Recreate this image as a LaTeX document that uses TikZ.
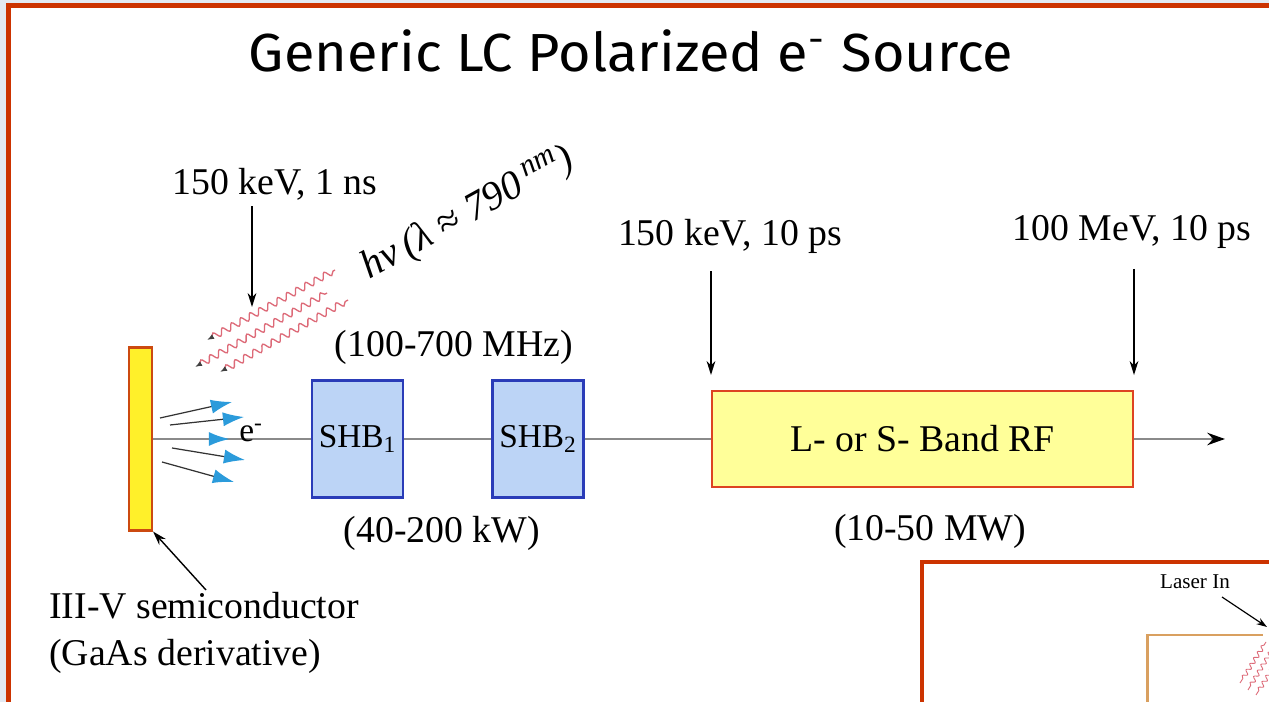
\documentclass[tikz,border=0pt]{standalone}
\usepackage{fontspec}
\usepackage{xcolor}
\setmainfont{Liberation Serif}
\newfontfamily\titlefont{Fira Sans}
\usetikzlibrary{arrows.meta}
\usetikzlibrary{positioning}
\usetikzlibrary{decorations.pathmorphing}

\definecolor{slidebg}{HTML}{E3E9F1}
\definecolor{framered}{HTML}{CC3300}
\definecolor{beamgray}{HTML}{8A8A8A}
\definecolor{cathfill}{HTML}{FFF02A}
\definecolor{cathdraw}{HTML}{CC4A10}
\definecolor{rffill}{HTML}{FFFF99}
\definecolor{rfdraw}{HTML}{DD4422}
\definecolor{shbfill}{HTML}{BCD4F6}
\definecolor{shbdraw}{HTML}{2A3CB8}
\definecolor{eblue}{HTML}{2B9BDB}
\definecolor{photonred}{HTML}{DD6A78}
\definecolor{cavorange}{HTML}{D9A060}

\begin{document}
\begin{tikzpicture}[x=0.02cm,y=-0.02cm,
  lbl/.style={font=\fontsize{21.5}{27}\selectfont,inner sep=0pt},
  ptr/.style={-{Stealth[length=8pt,width=5pt]},line width=0.8pt},
  beam/.style={draw=beamgray,line width=1.6pt},
  eptr/.style={-{Latex[length=12pt,width=8pt,color=eblue]},line width=0.7pt,black!80},
  photon/.style={photonred,line width=0.75pt,
    decorate,decoration={snake,amplitude=1.9pt,segment length=6pt,pre length=3pt,post length=1pt}},
  shb/.style={draw=shbdraw,fill=shbfill,line width=1.2pt,minimum width=1.82cm,minimum height=2.34cm,
    inner sep=0pt,font=\fontsize{19}{22}\selectfont},
  rfbox/.style={draw=rfdraw,fill=rffill,line width=1.2pt,minimum width=8.42cm,minimum height=1.92cm,
    font=\fontsize{21.5}{26}\selectfont}
]
\useasboundingbox (0,0) rectangle (1269,702);
\clip (0,0) rectangle (1269,702);
% Slide frame
\fill[slidebg] (0,0) rectangle (1269,702);
\draw[framered,line width=2.8pt,fill=white] (8.5,5.5) rectangle (1300,730);
% Title
\node (title) at (631,51) {\resizebox{435pt}{23.8pt}{\titlefont Generic LC Polarized e\textsuperscript{-} Source}};
% Cathode and beam line
\node[draw=cathdraw,fill=cathfill,line width=1.2pt,minimum width=0.46cm,minimum height=3.66cm,inner sep=0pt]
  (cathode) at (140.5,439) {};
\node[shb] (shb1) at (357.5,439) {SHB\textsubscript{1}};
\node[shb] (shb2) at (538,439) {SHB\textsubscript{2}};
\node[rfbox] (rf) at (922.5,439) {L- or S- Band RF};
\coordinate (out) at (1225,439);
\draw[beam] (cathode.east) -- (shb1.west);
\draw[beam] (shb1.east) -- (shb2.west);
\draw[beam] (shb2.east) -- (rf.west);
\draw[beam,-{Stealth[length=10pt,width=7pt,color=black]}] (rf.east) -- (out);
% Electrons
\foreach \sx/\sy/\ex/\ey in {160/418/232/402, 170/425/244/417, 172/448/245/460, 162/462/234/482}
  \draw[eptr] (\sx,\sy) -- (\ex,\ey);
\draw[eptr,beamgray,line width=1.6pt] (cathode.east) -- (230,439);
\node[lbl,font=\fontsize{19}{22}\selectfont] (elec) at (251,433) {e\textsuperscript{-}};
% Laser light
\draw[photon,{Latex[length=4pt,width=3pt,color=black!75]}-] (207,340) -- (335,270);
\draw[photon,{Latex[length=4pt,width=3pt,color=black!75]}-] (195,367) -- (327,293);
\draw[photon,{Latex[length=4pt,width=3pt,color=black!75]}-] (220,372) -- (348,300);
\node[lbl,rotate=29,font=\fontsize{23}{26}\selectfont\itshape] (hv) at (468,214)
  {hν\,(λ ≈ 790\,\raisebox{0.35em}{\fontsize{17}{19}\selectfont nm})};
% Labels
\node[lbl] (pulse1) at (275,184) {150 keV, 1 ns};
\coordinate (hit1) at (252,307);
\draw[ptr] (pulse1.south -| hit1) ++(0,6) -- (hit1);
\node[lbl] (freq) at (454,347) {(100-700 MHz)};
\node[lbl] (shbpow) at (442,533) {(40-200 kW)};
\node[lbl] (pulse2) at (730,236) {150 keV, 10 ps};
\node[lbl] (pulse3) at (1132,232) {100 MeV, 10 ps};
\draw[ptr] (pulse2.south -| rf.north west) ++(0,18) -- ([yshift=8.5pt]rf.north west);
\draw[ptr] (pulse3.south -| rf.north east) ++(0,20) -- ([yshift=8.5pt]rf.north east);
\node[lbl] (rfpow) at (930,531) {(10-50 MW)};
\node[lbl,align=left,anchor=north west] (gaas) at (49,592) {III-V semiconductor\\(GaAs derivative)};
\draw[ptr] (gaas.north west) ++(157,-2) -- (cathode.south east);
% Inset
\draw[framered,line width=2pt,fill=white] (922,562) rectangle (1320,740);
\node[font=\fontsize{12}{14}\selectfont] (laser) at (1195,582) {Laser In};
\coordinate (laserhit) at (1267,627);
\draw[-{Stealth[length=6pt,width=4pt]},line width=0.7pt] (1222,597) -- (laserhit);
\draw[cavorange,line width=1.7pt] (1147,720) -- (1147,635) -- (1263,635);
\draw[photon,line width=0.5pt,decoration={snake,amplitude=1.2pt,segment length=4pt}] (1240,683) -- (1266,642);
\draw[photon,line width=0.5pt,decoration={snake,amplitude=1.2pt,segment length=4pt}] (1248,690) -- (1272,650);
\draw[photon,line width=0.5pt,decoration={snake,amplitude=1.2pt,segment length=4pt}] (1256,695) -- (1278,660);
\end{tikzpicture}
\end{document}
